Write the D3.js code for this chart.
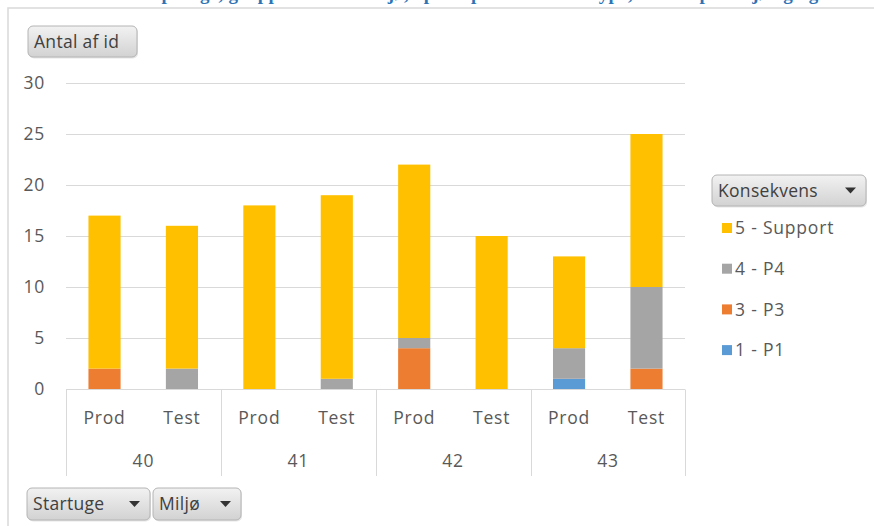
<!DOCTYPE html>
<html>
<head>
<meta charset="utf-8">
<script src="https://cdn.jsdelivr.net/npm/d3@7"></script>
<style>
  html, body { margin: 0; padding: 0; background: #fff; }
  svg { display: block; font-family: "Open Sans", "Noto Sans", sans-serif; }
</style>
</head>
<body>
<div id="chart"></div>
<script>
// Data
const weeks = ["40", "41", "42", "43"];
const envs = ["Prod", "Test"];
const series = ["1 - P1", "3 - P3", "4 - P4", "5 - Support"];
const p1      = [0, 0, 0, 0, 0, 0, 1, 0];
const p3      = [2, 0, 0, 0, 4, 0, 0, 2];
const p4      = [0, 2, 0, 1, 1, 0, 3, 8];
const support = [15, 14, 18, 18, 17, 15, 9, 15];
const yTicks = [0, 5, 10, 15, 20, 25, 30];
const legendOrder = ["5 - Support", "4 - P4", "3 - P3", "1 - P1"];

const colours = {
  "1 - P1": "#5b9bd5",
  "3 - P3": "#ed7d31",
  "4 - P4": "#a5a5a5",
  "5 - Support": "#ffc000"
};

const width = 874, height = 526;
const margin = { left: 66, right: 189, top: 83, bottom: 137 };
const fs = 17.5, ls = 0.8;

// build rows
const rows = [];
weeks.forEach((w, i) => {
  envs.forEach((e, j) => {
    const k = i * envs.length + j;
    rows.push({ key: w + "-" + e, week: w, env: e,
      "1 - P1": p1[k], "3 - P3": p3[k], "4 - P4": p4[k], "5 - Support": support[k] });
  });
});

const stacked = d3.stack().keys(series)(rows);

const svg = d3.select("#chart").append("svg")
  .attr("width", width)
  .attr("height", height);

// clipped title (only descenders visible)
svg.append("text")
  .attr("x", 447)
  .attr("y", 0)
  .attr("text-anchor", "middle")
  .attr("fill", "#2e74b5")
  .attr("font-family", "Liberation Serif, serif")
  .attr("font-weight", "bold")
  .attr("font-size", 19)
  .attr("textLength", 760)
  .attr("lengthAdjust", "spacing")
  .text("Hændelser pr. uge, grupperet efter miljø, opdelt på konsekvenstype, fordelt på miljø og uge");

// frame
svg.append("path")
  .attr("d", `M8,${height} V8 H${width}`)
  .attr("fill", "none")
  .attr("stroke", "#d9d9d9")
  .attr("stroke-width", 1.5);

const x = d3.scaleBand()
  .domain(rows.map(d => d.key))
  .range([margin.left, width - margin.right])
  .paddingInner(0.585)
  .paddingOuter(0.29);

const y = d3.scaleLinear()
  .domain([0, 30])
  .range([height - margin.bottom, margin.top]);

// gridlines
svg.append("g")
  .selectAll("line")
  .data(yTicks.filter(d => d > 0))
  .join("line")
  .attr("x1", margin.left)
  .attr("x2", width - margin.right)
  .attr("y1", d => y(d) + 0.5)
  .attr("y2", d => y(d) + 0.5)
  .attr("stroke", "#d9d9d9");

// y labels
svg.append("g")
  .selectAll("text")
  .data(yTicks)
  .join("text")
  .attr("x", 45)
  .attr("y", d => y(d))
  .attr("dy", "0.35em")
  .attr("text-anchor", "end")
  .attr("fill", "#595959")
  .attr("font-size", fs)
  .attr("letter-spacing", ls)
  .text(d => d);

// bars
svg.append("g")
  .selectAll("g")
  .data(stacked)
  .join("g")
  .attr("fill", d => colours[d.key])
  .selectAll("rect")
  .data(d => d)
  .join("rect")
  .attr("x", d => x(d.data.key))
  .attr("width", x.bandwidth())
  .attr("y", d => y(d[1]))
  .attr("height", d => y(d[0]) - y(d[1]));

// category axis
const axisY = y(0) + 0.5;
const step = x.step();
const groupW = step * envs.length;
svg.append("line")
  .attr("x1", margin.left).attr("x2", width - margin.right)
  .attr("y1", axisY).attr("y2", axisY)
  .attr("stroke", "#d9d9d9");

const bounds = d3.range(weeks.length + 1).map(i => margin.left + i * groupW);
svg.append("g")
  .selectAll("line")
  .data(bounds)
  .join("line")
  .attr("x1", d => Math.round(d) + 0.5)
  .attr("x2", d => Math.round(d) + 0.5)
  .attr("y1", axisY)
  .attr("y2", 476)
  .attr("stroke", "#d9d9d9");

svg.append("g")
  .selectAll("text")
  .data(rows)
  .join("text")
  .attr("x", d => x(d.key) + x.bandwidth() / 2)
  .attr("y", 424)
  .attr("text-anchor", "middle")
  .attr("fill", "#595959")
  .attr("font-size", fs)
  .attr("letter-spacing", ls)
  .text(d => d.env);

svg.append("g")
  .selectAll("text")
  .data(weeks)
  .join("text")
  .attr("x", (d, i) => margin.left + i * groupW + groupW / 2)
  .attr("y", 467)
  .attr("text-anchor", "middle")
  .attr("fill", "#595959")
  .attr("font-size", fs)
  .attr("letter-spacing", ls)
  .text(d => d);

// field buttons
const defs = svg.append("defs");
const grad = defs.append("linearGradient")
  .attr("id", "btn").attr("x1", 0).attr("x2", 0).attr("y1", 0).attr("y2", 1);
grad.append("stop").attr("offset", "0%").attr("stop-color", "#f2f2f2");
grad.append("stop").attr("offset", "100%").attr("stop-color", "#d2d2d2");

function button(bx, by, bw, bh, label, arrow) {
  const g = svg.append("g").attr("transform", `translate(${bx},${by})`);
  g.append("rect")
    .attr("x", 1).attr("y", 1.5)
    .attr("width", bw).attr("height", bh)
    .attr("rx", 5)
    .attr("fill", "#e6e6e6");
  g.append("rect")
    .attr("width", bw).attr("height", bh)
    .attr("rx", 5)
    .attr("fill", "url(#btn)")
    .attr("stroke", "#b4b4b4");
  g.append("text")
    .attr("x", 6).attr("y", bh / 2)
    .attr("dy", "0.35em")
    .attr("fill", "#404040")
    .attr("font-size", fs)
    .attr("letter-spacing", 0.3)
    .text(label);
  if (arrow) {
    g.append("path")
      .attr("d", `M${bw - 21},${bh / 2 - 3} h11 l-5.5,6 z`)
      .attr("fill", "#333");
  }
}

button(28, 26, 109, 31, "Antal af id", false);
button(712, 175, 154, 31, "Konsekvens", true);
button(27, 488, 123, 32, "Startuge", true);
button(153, 488, 88, 32, "Miljø", true);

// legend
const legend = svg.append("g")
  .selectAll("g")
  .data(legendOrder)
  .join("g")
  .attr("transform", (d, i) => `translate(722,${228 + i * 40.7})`);
legend.append("rect")
  .attr("x", 0).attr("y", -5)
  .attr("width", 10).attr("height", 10)
  .attr("fill", d => colours[d]);
legend.append("text")
  .attr("x", 13)
  .attr("dy", "0.35em")
  .attr("fill", "#595959")
  .attr("font-size", fs)
  .attr("letter-spacing", ls)
  .text(d => d);
</script>
</body>
</html>
